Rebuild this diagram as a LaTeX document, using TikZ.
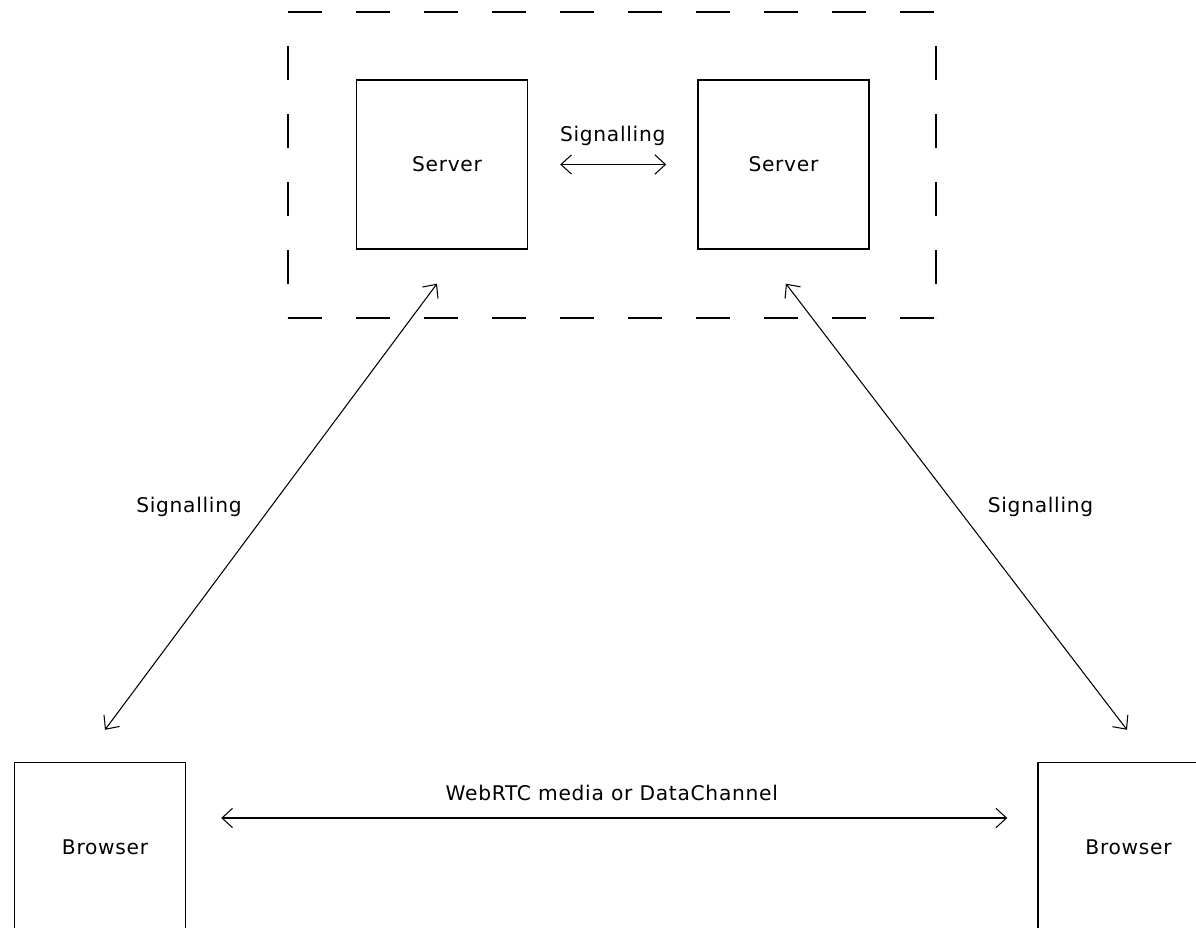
\documentclass[tikz,border=0pt]{standalone}
\usepackage{fontspec}
\setmainfont[LetterSpace=3.5]{DejaVu Sans}
\usetikzlibrary{positioning, arrows.meta}

\begin{document}
\begin{tikzpicture}[node distance=3.38cm, >={Straight Barb[length=6pt, width=11pt]},
      font=\fontsize{11.5}{14}\selectfont,
      box/.style={draw, line width=0.8pt, minimum width=3.42cm, minimum height=3.38cm},
      offset/.style={execute at begin node={\hskip0.2cm}},
      link/.style={<->, line width=0.6pt},
      grouped/.style={line width=0.8pt, dash pattern=on 0.68cm off 0.68cm}]

    \useasboundingbox (0,0) rectangle (23.92,18.56);
    \clip (0,0) rectangle (23.92,18.56);

    % dashed group round the servers
    \draw[grouped] (5.76,18.32) -- (18.72,18.32);
    \draw[grouped] (5.76,12.2) -- (18.72,12.2);
    \draw[grouped, dash phase=0.68cm] (5.76,18.32) -- (5.76,12.2);
    \draw[grouped, dash phase=0.68cm] (18.72,18.32) -- (18.72,12.2);

    \node[box, offset] (server1) at (8.84,15.27) {Server};
    \node[box, right=of server1] (server2) {Server};
    \node[box, offset] (browser1) at (2.0,1.62) {Browser};
    \node[box, offset] (browser2) at (22.47,1.62) {Browser};

    \draw[link, shorten <=0.64cm, shorten >=0.62cm] (server1) -- node[above=0.24cm] {Signalling} (server2);
    \draw[link] ([xshift=-0.1cm, yshift=-0.68cm]server1.south) -- node[midway, left=0.46cm] {Signalling} ([xshift=0.1cm, yshift=0.64cm]browser1.north);
    \draw[link] ([xshift=0.05cm, yshift=-0.68cm]server2.south) -- node[midway, right=0.5cm] {Signalling} ([xshift=0.07cm, yshift=0.64cm]browser2.north);
    \draw[link, shorten <=0.7cm, shorten >=0.6cm] ([yshift=0.58cm]browser1.east) -- node[above=0.22cm] {WebRTC media or DataChannel} ([yshift=0.58cm]browser2.west);
  \end{tikzpicture}
\end{document}
